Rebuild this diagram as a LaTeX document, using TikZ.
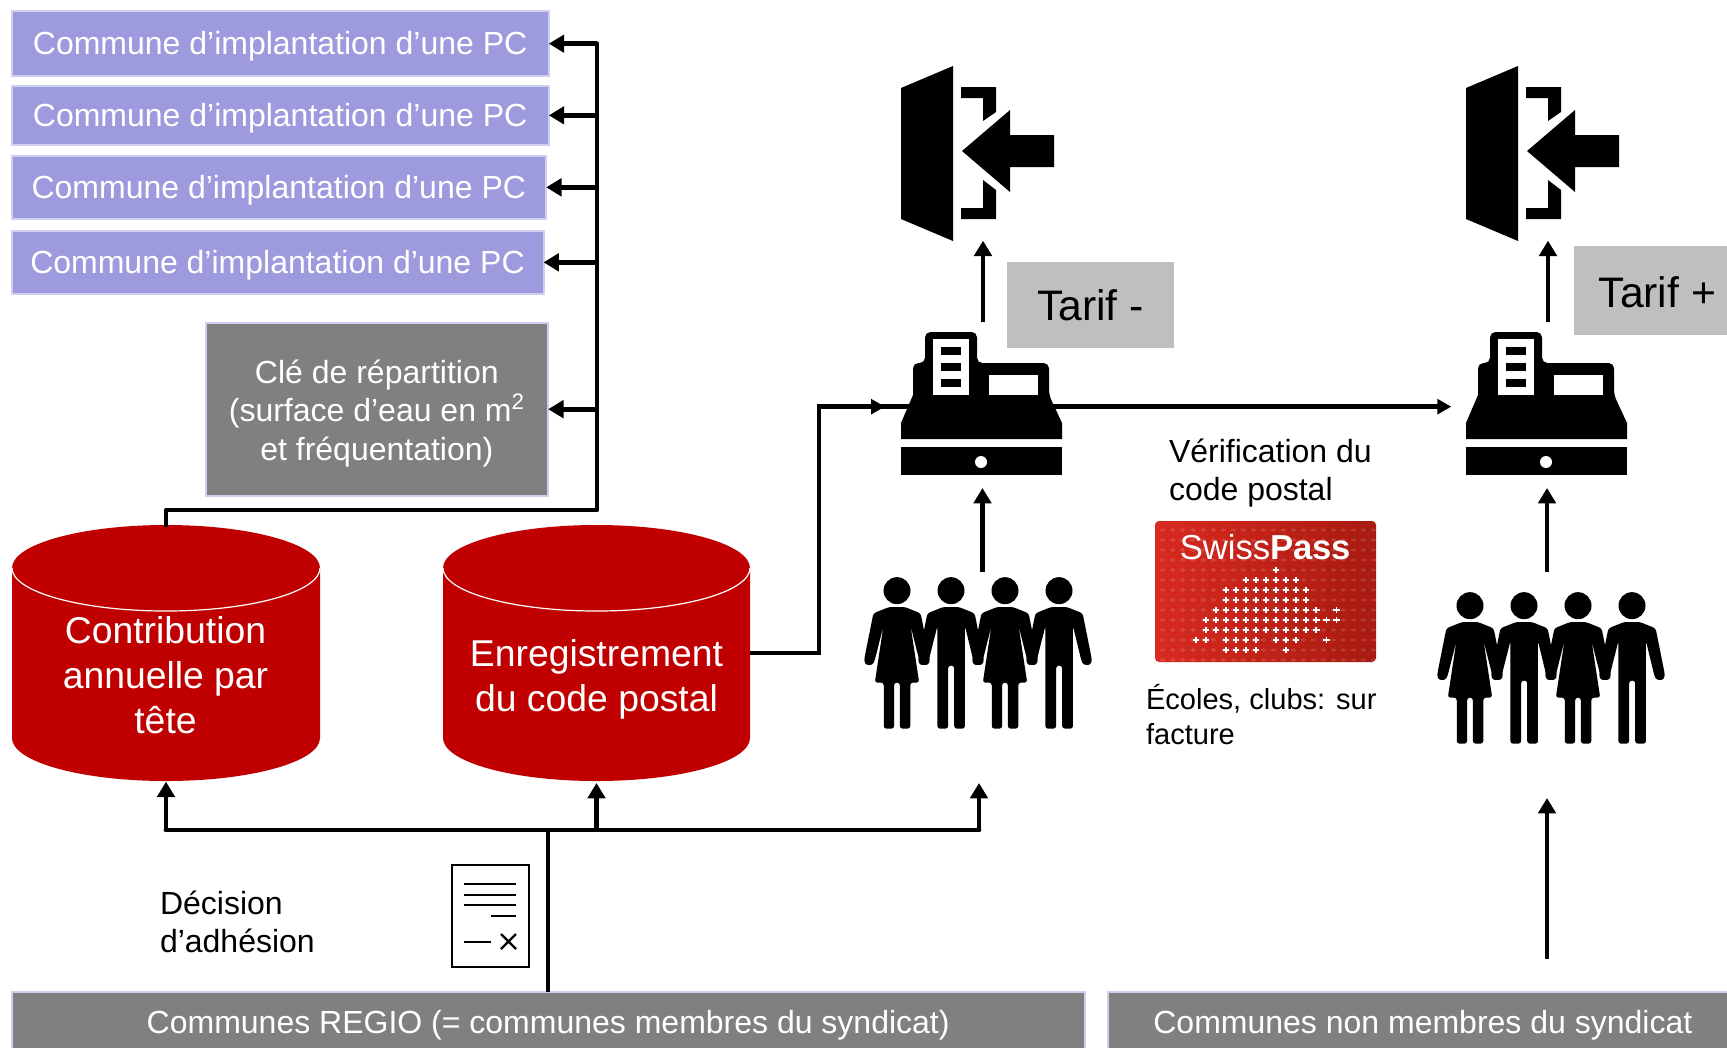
\documentclass[tikz,border=0pt]{standalone}
\usepackage{fontspec}
\setmainfont{Liberation Sans}
\usetikzlibrary{arrows.meta,calc}
\definecolor{peri}{HTML}{9D9BDD}
\definecolor{periedge}{HTML}{CFCFF0}
\definecolor{grayc}{HTML}{808080}
\definecolor{redc}{HTML}{C00000}
\definecolor{tarifc}{HTML}{BFBFBF}
\definecolor{cardL}{HTML}{D82A20}
\definecolor{cardR}{HTML}{A81A10}
\tikzset{
  x=0.75pt,y=-0.75pt,
  boxbase/.style={anchor=north west,inner sep=0pt,outer sep=0pt,text=white,align=center,draw=periedge,line width=1.5pt},
  pcbox/.style={boxbase,fill=peri,text height=21.5pt,text depth=5pt,font=\fontsize{24}{28.8}\selectfont},
  graybox/.style={boxbase,fill=grayc,font=\fontsize{24}{28.8}\selectfont},
  tarifbox/.style={anchor=north west,inner sep=0pt,outer sep=0pt,fill=tarifc,text=black,font=\fontsize{32}{38}\selectfont},
  cyltext/.style={inner sep=0pt,outer sep=0pt,text=white,align=center,font=\fontsize{28}{33.8}\selectfont},
  label/.style={anchor=west,inner sep=0pt,outer sep=0pt,align=left,text=black},
  icon/.style={anchor=north west,inner sep=0pt,outer sep=0pt},
  conn/.style={line width=3.6pt,draw=black},
  arr/.style={conn,-{Triangle[length=11.5pt,width=13pt]}},
  pics/doorIcon/.style={code={
    \fill[black] (0,22) -- (52,0) -- (52,175) -- (0,153) -- cycle;
    \fill[black] (60,21) -- (95,21) -- (95,46) -- (82,55) -- (82,32) -- (60,32) -- cycle;
    \fill[black] (60,153) -- (95,153) -- (95,124) -- (82,114) -- (82,142) -- (60,142) -- cycle;
    \fill[black] (61,85) -- (109,44) -- (109,69) -- (153,69) -- (153,101) -- (109,101) -- (109,126) -- cycle;
  }},
  pics/registerIcon/.style={code={
    \fill[black] (0,115) rectangle (161,143);
    \fill[white] (80,130) circle [radius=6];
    \fill[black] (0,107) -- (0,91) -- (12,63) {[rounded corners=4pt] -- (12,31) -- (24,31) -- (24,0) -- (76,0) -- (76,31) -- (148,31) -- (148,63)} -- (161,91) -- (161,107) -- cycle;
    \fill[white] (32,7) rectangle (68,63);
    \fill[black] (40,15) rectangle (60,23);
    \fill[black] (40,31) rectangle (60,39);
    \fill[black] (40,47) rectangle (60,55);
    \fill[white] (88,43) rectangle (137,63);
  }},
  pics/womanIcon/.style={code={
    \fill[black] (0,272) circle [x radius=37.7,y radius=40.5];
    \fill[black,rounded corners=2pt] (-22,321) -- (-66,340) -- (-92,480) -- (-88,495) -- (-68,495) -- (-62,480) -- (-38,378) -- (-62,548) -- (-37,548) -- (-37,686) -- (-8,686) -- (-8,548) -- (8,548) -- (8,686) -- (37,686) -- (37,548) -- (62,548) -- (38,378) -- (62,480) -- (68,495) -- (88,495) -- (92,480) -- (66,340) -- (22,321) -- cycle;
  }},
  pics/manIcon/.style={code={
    \fill[black] (0,272) circle [x radius=37.7,y radius=40.5];
    \fill[black,rounded corners=2pt] (-22,321) -- (-66,340) -- (-92,480) -- (-88,495) -- (-68,495) -- (-62,480) -- (-38,378) -- (-38,686) -- (-8,686) -- (-8,497) -- (9,497) -- (9,686) -- (39,686) -- (39,378) -- (62,480) -- (68,495) -- (88,495) -- (92,480) -- (66,340) -- (22,321) -- cycle;
  }},
  pics/peopleIcon/.style={code={
    \pic[xscale=.358,yscale=.3333] at (0,0) {womanIcon};
    \pic[xscale=.358,yscale=.3333] at (54,0) {manIcon};
    \pic[xscale=.358,yscale=.3333] at (108,0) {womanIcon};
    \pic[xscale=.358,yscale=.3333] at (162,0) {manIcon};
  }},
}
\begin{document}
\begin{tikzpicture}
\useasboundingbox (0,0) rectangle (1727,1047);
\clip (0,0) rectangle (1727,1047);
\fill[white] (0,0) rectangle (1727,1047);

% cylinders
\fill[redc] (12,568) arc[x radius=154,y radius=43,start angle=180,end angle=360] -- (320,738) arc[x radius=154,y radius=43,start angle=0,end angle=180] -- cycle;
\draw[white,line width=.9pt] (12,568) arc[x radius=154,y radius=43,start angle=180,end angle=0];
\fill[redc] (443,568) arc[x radius=153.5,y radius=43,start angle=180,end angle=360] -- (750,738) arc[x radius=153.5,y radius=43,start angle=0,end angle=180] -- cycle;
\draw[white,line width=.9pt] (443,568) arc[x radius=153.5,y radius=43,start angle=180,end angle=0];
\node[minimum width=231pt,minimum height=192pt,inner sep=0pt,outer sep=0pt] (cylA) at (166,653) {};
\node[minimum width=230pt,minimum height=192pt,inner sep=0pt,outer sep=0pt] (cylB) at (596.5,653) {};
\node[cyltext] (cylAtext) at (165.5,675) {Contribution\\annuelle par\\tête};
\node[cyltext] (cylBtext) at (596.5,679) {Enregistrement\\du code postal};

% boxes
\node[pcbox,minimum width=403pt,minimum height=49pt] (pcA) at (11.5,11) {Commune d’implantation d’une PC};
\node[pcbox,minimum width=403pt,minimum height=44pt] (pcB) at (11.5,86) {Commune d’implantation d’une PC};
\node[pcbox,minimum width=401pt,minimum height=47pt] (pcC) at (11.5,156) {Commune d’implantation d’une PC};
\node[pcbox,minimum width=399pt,minimum height=47pt] (pcD) at (11.5,231) {Commune d’implantation d’une PC};
\node[graybox,minimum width=257pt,minimum height=130pt] (cle) at (205.5,322.5) {\rule{0pt}{24.1pt}Clé de répartition\\(surface d’eau en m\textsuperscript{2}\\et fréquentation)};
\node[graybox,text height=21.5pt,text depth=5pt,minimum width=805pt,minimum height=45pt] (regio) at (11.5,992) {Communes REGIO (= communes membres du syndicat)};
\node[graybox,text height=21.5pt,text depth=5pt,minimum width=473pt,minimum height=45pt] (nonm) at (1107.5,992) {Communes non membres du syndicat};

% invisible icon anchors
\node[icon,minimum width=115pt,minimum height=131pt] (doorA) at (901,66) {};
\node[icon,minimum width=115pt,minimum height=131pt] (doorB) at (1466,66) {};
\node[icon,minimum width=121pt,minimum height=103pt] (regA) at (901,338) {};
\node[icon,minimum width=121pt,minimum height=103pt] (regB) at (1466,338) {};
\node[icon,minimum width=170pt,minimum height=113pt] (peopleA) at (865,578) {};
\node[icon,minimum width=170pt,minimum height=113pt] (peopleB) at (1437,593) {};
\coordinate (trunk) at (597,510);
\coordinate (jct) at (548,830);
\coordinate (elbow) at (819,0);

% connectors: left block
\draw[conn,line cap=round,line join=round] (pcA.east -| trunk) -- (trunk) -- (trunk -| cylA.north) -- (cylA.north);
\draw[arr] (pcA.east -| trunk) -- (pcA.east);
\draw[arr] (pcB.east -| trunk) -- (pcB.east);
\draw[arr] (pcC.east -| trunk) -- (pcC.east);
\draw[arr] (pcD.east -| trunk) -- (pcD.east);
\draw[arr] (cle.east -| trunk) -- (cle.east);

% connectors: bottom
\draw[conn] (regio.north -| jct) -- (jct);
\draw[conn,line cap=round] (jct -| cylA.south) -- (979,830);
\draw[arr] (jct -| cylA.south) -- ([yshift=-.5pt]cylA.south);
\draw[arr] (jct -| cylB.south) -- ([yshift=-1.5pt]cylB.south);
\draw[arr] (979,830) -- (979,783);
\draw[arr] ([yshift=25pt]regio.north -| 1547,0) -- (1547,798);

% connectors: register line
\draw[conn,line join=miter] (cylB.east) -- (cylB.east -| elbow) -- (elbow |- regA.west) -- (regA.west);
\draw[conn,-{Triangle[length=10.5pt,width=11pt]}] (elbow |- regA.west) -- ([xshift=-12pt]regA.west);
\draw[conn,-{Triangle[length=10.5pt,width=11pt]}] (regA.west) -- ([xshift=-11pt]regB.west);

% icons
\pic at (901,66) {doorIcon};
\pic at (1466,66) {doorIcon};
\pic at (901,332) {registerIcon};
\pic at (1466,332) {registerIcon};
\pic at (897,500) {peopleIcon};
\pic at (1470,515) {peopleIcon};

% connectors: vertical
\draw[arr] ([xshift=1pt,yshift=12pt]regA.north) -- ([xshift=1pt]regA.north |- doorA.south);
\draw[arr] ([xshift=1pt,yshift=12pt]regB.north) -- ([xshift=1pt]regB.north |- doorB.south);
\draw[arr] (982.5,572) -- (982.5,488);
\draw[arr] (1547,572) -- (1547,488);

% tarif
\node[tarifbox,minimum width=125pt,minimum height=64.5pt] (tarifA) at (1007,262) {Tarif -};
\node[tarifbox,minimum width=125pt,minimum height=67pt] (tarifB) at (1574,246) {\rule{0pt}{26pt}Tarif +};

% labels
\node[label,font=\fontsize{24}{28.5}\selectfont] (verif) at (1169,473.5) {Vérification du\\code postal};
\node[label,font=\fontsize{21.8}{26}\selectfont] (ecoles) at (1146,714.5) {Écoles, clubs: sur\\facture};
\node[label,font=\fontsize{24}{28.5}\selectfont] (decision) at (160,922) {Décision\\d’adhésion};

% document icon
\draw[black,line width=1.7pt,fill=white] (452,865) rectangle (529,967);
\draw[black,line width=1.5pt] (464,884) -- (516,884) (464,895) -- (516,895) (464,905) -- (516,905) (491,916) -- (516,916) (464,942) -- (491,942);
\draw[black,line width=1.8pt] (501,934) -- (516,949) (516,934) -- (501,949);

% SwissPass card
\shade[left color=cardL,right color=cardR,rounded corners=3pt] (1155,521) rectangle (1376,662);
\begin{scope}[shift={(850,500)},xscale=.3584,yscale=.3333]
  \foreach \zx in {873,901,...,1461}{
    \foreach \zy in {90,120,...,480}{
      \draw[white,opacity=.13,line width=.9pt] (\zx-7,\zy) -- (\zx+7,\zy) (\zx,\zy-7) -- (\zx,\zy+7);
    }
  }
  \foreach \zy/\xs in {
    210/{1189},
    240/{1105,1133,1161,1189,1217,1245},
    270/{1049,1077,1105,1133,1161,1189,1217,1245,1273},
    300/{1049,1077,1105,1133,1161,1189,1217,1245,1273},
    330/{1021,1049,1077,1105,1133,1161,1189,1217,1245,1273,1301,1357},
    360/{993,1021,1049,1077,1105,1133,1161,1189,1217,1245,1273,1301,1329,1357},
    390/{993,1021,1049,1077,1105,1133,1161,1189,1217,1245,1273,1301},
    420/{965,993,1049,1077,1105,1133,1189,1217,1245,1329},
    450/{1049,1077,1105,1133,1217}}{
    \foreach \zx in \xs {
      \draw[white,line width=1.2pt] (\zx-9,\zy) -- (\zx+9,\zy) (\zx,\zy-9) -- (\zx,\zy+9);
    }
  }
\end{scope}
\node[inner sep=0pt,outer sep=0pt,text=white,font=\fontsize{26}{30}\selectfont] (swiss) at (1265.5,547) {Swiss\textbf{Pass}};
\end{tikzpicture}
\end{document}
